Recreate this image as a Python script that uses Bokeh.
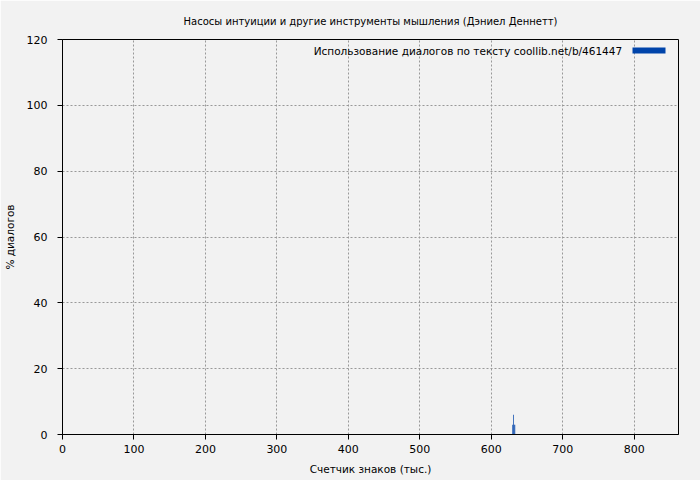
from bokeh.plotting import figure
from bokeh.models import ColumnDataSource, Label, BoxAnnotation
from bokeh.embed import file_html
from bokeh.resources import INLINE

# chars counter (thousands) and % of dialogues
positions = [630, 631, 632, 633]
percents = [3, 6, 3, 3]

x_ticks = [0, 100, 200, 300, 400, 500, 600, 700, 800]
y_ticks = [0, 20, 40, 60, 80, 100, 120]

title_text = "Насосы интуиции и другие инструменты мышления (Дэниел Деннетт)"
legend_text = "Использование диалогов по тексту  coollib.net/b/461447"
FONT = "DejaVu Sans"
BG = "#f2f2f2"
BAR = "#0044aa"

source = ColumnDataSource(data=dict(x=positions, top=percents))

p = figure(width=700, height=480, x_range=(0, 862), y_range=(0, 120),
           output_backend="svg", toolbar_location=None, tools="",
           min_border_left=62, min_border_right=22, min_border_top=39, min_border_bottom=46,
           x_axis_label="Счетчик знаков (тыс.)", y_axis_label="% диалогов")

p.background_fill_color = BG
p.border_fill_color = BG
p.outline_line_color = "black"
p.outline_line_width = 1

p.title.text = title_text
p.title.align = "center"
p.title.text_font = FONT
p.title.text_font_size = "10px"
p.title.text_font_style = "normal"
p.title.text_color = "black"
p.title.offset = 0
p.title.standoff = 26

p.vbar(x="x", top="top", width=1, source=source, fill_color=BAR, line_color=None)

p.xaxis.ticker = x_ticks
p.yaxis.ticker = y_ticks
for ax in (p.xaxis, p.yaxis):
    ax.axis_line_color = "black"
    ax.major_tick_line_color = "black"
    ax.major_tick_out = 5
    ax.major_tick_in = 0
    ax.minor_tick_line_color = None
    ax.major_label_text_font = FONT
    ax.major_label_text_font_size = "11px"
    ax.major_label_text_color = "black"
    ax.axis_label_text_font = FONT
    ax.axis_label_text_font_size = "10.5px"
    ax.axis_label_text_font_style = "normal"
    ax.axis_label_text_color = "black"
p.xaxis.major_label_standoff = 5
p.xaxis.axis_label_standoff = 7
p.yaxis.major_label_standoff = 10
p.yaxis.axis_label_standoff = 8

p.grid.grid_line_color = "#999999"
p.grid.grid_line_dash = "2 2"
p.grid.grid_line_width = 1

# legend drawn as text with a swatch on its right, like the original
p.add_layout(Label(x=563, y=384, x_units="screen", y_units="screen", text=legend_text,
                   text_font=FONT, text_font_size="10.5px", text_align="right",
                   text_baseline="middle", text_color="black"))
p.add_layout(BoxAnnotation(left=570, right=603, top=387, bottom=381,
                           left_units="screen", right_units="screen",
                           top_units="screen", bottom_units="screen",
                           fill_color=BAR, fill_alpha=1, line_color=None))

open("out.html", "w").write(file_html(p, INLINE))
